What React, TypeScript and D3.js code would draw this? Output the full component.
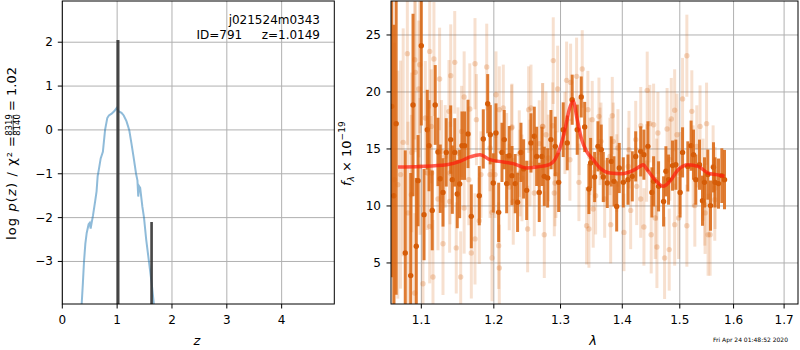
import * as d3 from 'd3'

// p(z) curve
const pzZ = [0.353, 0.375, 0.396, 0.42, 0.445, 0.48, 0.5, 0.517, 0.535, 0.56, 0.6, 0.625, 0.645, 0.66, 0.7, 0.74, 0.78, 0.82, 0.85, 0.9, 0.95, 0.99, 1.03, 1.08, 1.12, 1.17, 1.22, 1.26, 1.3, 1.345, 1.37, 1.385, 1.4, 1.42, 1.46, 1.49, 1.53, 1.58, 1.63, 1.67]
const pzLog = [-3.98, -3.5, -3.0, -2.6, -2.35, -2.15, -2.12, -2.25, -2.12, -1.95, -1.62, -1.4, -1.05, -0.95, -0.65, -0.5, 0.0, 0.27, 0.33, 0.37, 0.43, 0.5, 0.42, 0.39, 0.33, 0.2, 0.0, -0.3, -0.62, -1.0, -1.15, -1.52, -1.28, -1.32, -1.75, -2.0, -2.5, -3.0, -3.5, -3.98]

// narrow chi2 peaks
const spikeZ = [1.0149, 1.628]
const spikeTop = [2.05, -2.1]
const spikeHalf = [0.028, 0.024]

// optimal-extraction spectrum [wave, flux, err]
const darkSpec = [
  [1.0617, 18.74, 15], [1.0643, 10.9, 15], [1.0673, 17.22, 15], [1.079, 5.88, 9], [1.0861, 3.89, 9],
  [1.0891, 18.86, 8], [1.0934, 6.46, 6], [1.0957, 12.22, 4], [1.1, 24.06, 7], [1.1036, 9.24, 4],
  [1.1079, 16.69, 3.5], [1.1102, 15.29, 4], [1.1145, 9.61, 3.5], [1.1185, 18.86, 3.5], [1.1222, 14.74, 3],
  [1.1253, 12.39, 3], [1.129, 11.19, 3], [1.1334, 14.7, 3], [1.1395, 15.82, 3], [1.1417, 12.31, 3],
  [1.145, 14.7, 3], [1.1485, 11.05, 3], [1.1518, 11.93, 3], [1.155, 15.29, 3], [1.1587, 15.29, 3],
  [1.1634, 16.32, 3], [1.168, 9.09, 2.8], [1.1792, 10.9, 2.6], [1.1849, 15.88, 2.6], [1.1912, 18.97, 2.6],
  [1.1949, 16.25, 2.6], [1.1992, 12.02, 2.6], [1.2031, 16.4, 2.6], [1.207, 9.44, 2.6], [1.2118, 14.7, 2.6],
  [1.2151, 15.82, 2.6], [1.2186, 11.96, 2.6], [1.2224, 14.41, 2.6], [1.2264, 12.66, 2.6], [1.2312, 11.96, 2.6],
  [1.2347, 10.32, 2.6], [1.2397, 14.7, 2.6], [1.2437, 13.25, 2.6], [1.2482, 11.37, 2.6], [1.2547, 15.53, 2.6],
  [1.2597, 16.11, 2.6], [1.2633, 14.35, 2.6], [1.2672, 11.19, 2.6], [1.2713, 14.35, 2.6], [1.2749, 12.6, 2.6],
  [1.2801, 12.46, 2.6], [1.2851, 15.82, 2.6], [1.2918, 15.23, 2.6], [1.2971, 12.07, 2.6], [1.3042, 16.69, 2.4],
  [1.3105, 15.53, 2.4], [1.3183, 19.32, 2.2], [1.3263, 16.69, 2.2], [1.3327, 19.56, 1.8], [1.3382, 16.93, 2.2],
  [1.345, 11.49, 2.2], [1.3478, 13.77, 2.2], [1.3543, 12.54, 2.2], [1.3597, 15.23, 2.2], [1.3651, 14.94, 2.2],
  [1.3684, 12.54, 2.2], [1.375, 12.02, 2.2], [1.3816, 13.91, 2.2], [1.3861, 12.16, 2.2], [1.3906, 9.96, 2.2],
  [1.3949, 13.33, 2.2], [1.4017, 12.07, 2.2], [1.4096, 12.31, 2.2], [1.4169, 12.6, 2.2], [1.4227, 14.35, 2.2],
  [1.4313, 14.79, 2.2], [1.4368, 14.5, 2.2], [1.4437, 15.23, 2.2], [1.4506, 11.19, 2.2], [1.4536, 12.16, 2.2],
  [1.4623, 11.72, 2.2], [1.4711, 10.4, 2.2], [1.4752, 13.04, 2.2], [1.4799, 12.31, 2.2], [1.487, 13.54, 2.2],
  [1.4929, 13.62, 2.2], [1.5006, 11.19, 2.2], [1.505, 14.7, 2.2], [1.5145, 13.47, 2.2], [1.5205, 15.29, 2.2],
  [1.5249, 14.5, 2.2], [1.5291, 12.31, 2.2], [1.5359, 13.62, 2.2], [1.5414, 10.46, 2.2], [1.5451, 12.07, 2.2],
  [1.5513, 12.75, 2.2], [1.5563, 10.03, 2.2], [1.5619, 13.39, 2.2], [1.5649, 12.07, 2.2], [1.5713, 11.96, 2.2],
  [1.5776, 12.66, 2.4], [1.5827, 12.31, 2.6],
]

// individual-beam spectrum [wave, flux, err]
const lightSpec = [
  [1.0817, 23.36, 8], [1.0913, 22.83, 7], [1.0921, 21.72, 7], [1.0979, 22.39, 6], [1.0966, 20.26, 6],
  [1.1111, 23.56, 5], [1.1168, 22.89, 5], [1.1244, 21.14, 4.5], [1.1395, 21.43, 4.5], [1.145, 22.6, 4.5],
  [1.1732, 22.48, 4], [1.158, 19.56, 4], [1.1659, 18.51, 4], [1.1371, 18.3, 4.5], [1.1053, 17.72, 5],
  [1.1132, 16.98, 5], [1.0763, 15.58, 10], [1.0651, 12.31, 12], [1.0694, 11.87, 10], [1.0869, 10.99, 7],
  [1.0825, 9.39, 8], [1.1222, 10.61, 4.5], [1.129, 6.69, 4.5], [1.138, 10.4, 4.5], [1.1471, 6.32, 4],
  [1.1532, 3.77, 4], [1.1155, 3.77, 5], [1.1022, 3.18, 6], [1.0913, 2.37, 7], [1.1111, 8.21, 5],
  [1.1732, 7.11, 4], [1.168, 5.88, 4], [1.158, 9.82, 4], [1.1645, 12.31, 4], [1.1079, 12.89, 5],
  [1.132, 14.35, 4.5], [1.1495, 14.65, 4], [1.073, 12.75, 10], [1.0874, 14.7, 7], [1.0983, 13.47, 6],
  [1.1137, 12.89, 5], [1.127, 14.79, 4.5], [1.1385, 12.89, 4.5], [1.1545, 16.54, 4], [1.1752, 17.57, 4],
  [1.1898, 22.19, 3.8], [1.2031, 19.76, 3.8], [1.2079, 18.45, 3.8], [1.2137, 18.6, 3.8], [1.2264, 16.93, 3.8],
  [1.2512, 18.45, 3.8], [1.2547, 18.6, 3.8], [1.2724, 16.98, 3.8], [1.2775, 16.25, 3.8], [1.2887, 22.75, 3.8],
  [1.2955, 20.26, 3.8], [1.2878, 17.04, 3.8], [1.1816, 12.75, 3.8], [1.1945, 12.75, 3.8], [1.1974, 9.44, 3.8],
  [1.1974, 5.44, 3.8], [1.207, 6.52, 3.8], [1.2079, 4.56, 3.8], [1.1792, 8.71, 3.8], [1.2224, 11.67, 3.8],
  [1.2283, 10.4, 3.8], [1.2497, 7.98, 3.8], [1.2412, 12.46, 3.8], [1.2597, 11.14, 3.8], [1.2749, 7.48, 3.8],
  [1.2903, 11.14, 3.8], [1.2929, 12.75, 3.8], [1.2372, 14.59, 3.8], [1.2672, 15.47, 3.8], [1.1945, 15.09, 3.8],
  [1.2017, 12.75, 3.8], [1.2186, 14.35, 3.8], [1.2259, 16.84, 3.8], [1.2382, 12.89, 3.8], [1.2532, 13.77, 3.8],
  [1.2724, 16.98, 3.8], [1.281, 14.21, 3.8], [1.2913, 12.02, 3.8], [1.3069, 16.4, 3.6], [1.3147, 14.06, 3.6],
  [1.3343, 22.02, 3.4], [1.3253, 21.37, 3.4], [1.3158, 20.84, 3.4], [1.3095, 21.02, 3.4], [1.3434, 18.45, 3.4],
  [1.3504, 17.57, 3.4], [1.3613, 17.86, 3.4], [1.3833, 17.92, 3.4], [1.3927, 15.09, 3.4], [1.3849, 15.67, 3.4],
  [1.329, 12.07, 3.4], [1.3559, 10.9, 3.4], [1.352, 9.74, 3.4], [1.3413, 8.27, 3.4], [1.345, 7.98, 3.4],
  [1.3806, 8.36, 3.4], [1.3707, 10.61, 3.4], [1.4028, 7.68, 3.4], [1.4141, 9.61, 3.4], [1.4368, 8.16, 3.4],
  [1.4313, 10.61, 3.4], [1.4494, 7.48, 3.4], [1.4425, 20.14, 3.4], [1.4471, 17.22, 3.4], [1.4313, 17.04, 3.4],
  [1.4227, 15.82, 3.4], [1.4113, 14.94, 3.4], [1.3646, 15.67, 3.4], [1.3295, 16.11, 3.4], [1.3466, 14.35, 3.4],
  [1.3629, 15.23, 3.4], [1.3794, 14.35, 3.4], [1.3906, 12.89, 3.4], [1.4101, 13.47, 3.4], [1.4244, 11.72, 3.4],
  [1.4415, 13.77, 3.4], [1.5128, 23.18, 3.6], [1.505, 19.39, 3.6], [1.4908, 18.39, 3.6], [1.4848, 17.63, 3.6],
  [1.4773, 16.75, 3.6], [1.4611, 16.4, 3.6], [1.5218, 18.3, 3.6], [1.5369, 16.98, 3.6], [1.549, 17.22, 3.6],
  [1.5309, 15.23, 3.6], [1.4536, 17.13, 3.6], [1.4949, 16.25, 3.6], [1.4564, 8.95, 3.6], [1.4594, 6.4, 3.6],
  [1.4729, 5.44, 3.6], [1.4811, 6.17, 3.6], [1.4979, 8.95, 3.6], [1.4908, 8.36, 3.6], [1.5128, 8.27, 3.6],
  [1.5273, 10.03, 3.6], [1.5462, 9.39, 3.6], [1.5556, 7.48, 3.6], [1.5649, 11.58, 3.6], [1.4588, 12.31, 3.6],
  [1.4822, 14.06, 3.6], [1.5001, 12.89, 3.6], [1.5242, 13.47, 3.6], [1.5425, 12.31, 3.6], [1.5612, 13.47, 3.6],
  [1.5643, 10.55, 3.6], [1.5518, 7.48, 3.6], [1.5457, 10.12, 3.6],
]

// best-fit model
const modelWave = [1.0696, 1.0983, 1.134, 1.1522, 1.1662, 1.1802, 1.1945, 1.2137, 1.2283, 1.2482, 1.2633, 1.2826, 1.2913, 1.2991, 1.3069, 1.3136, 1.3199, 1.3263, 1.3334, 1.3413, 1.352, 1.3629, 1.3794, 1.399, 1.4186, 1.4299, 1.4357, 1.4415, 1.4559, 1.4704, 1.4822, 1.4971, 1.5151, 1.5333, 1.5518, 1.5674, 1.5827]
const modelFlux = [13.42, 13.47, 13.62, 13.91, 14.3, 14.5, 14.06, 13.86, 13.71, 13.33, 13.42, 13.62, 14.06, 15.09, 16.69, 18.45, 19.18, 17.57, 15.82, 14.79, 14.06, 13.33, 12.89, 12.83, 13.12, 13.47, 13.62, 13.25, 12.31, 11.72, 12.16, 13.18, 13.62, 13.47, 12.89, 12.75, 12.6]

const zTicks = [0, 1, 2, 3, 4]
const pTicks = [-3, -2, -1, 0, 1, 2]
const waveTicks = [1.1, 1.2, 1.3, 1.4, 1.5, 1.6, 1.7]
const fluxTicks = [5, 10, 15, 20, 25]

const FONT = 'DejaVu Sans, sans-serif'
const ORANGE = '#d9650f'
const GRID = '#b0b0b0'
const fmt = (v) => String(v).replace('-', '\u2212')

export default function App() {
  const L = { x0: 62.3, x1: 334.3, y0: 1, y1: 304 }
  const R = { x0: 391, x1: 798, y0: 1, y1: 304 }

  const xz = d3.scaleLinear().domain([0, 4.96]).range([L.x0, L.x1])
  const yp = d3.scaleLinear().domain([-3.97, 2.94]).range([L.y1, L.y0])
  const xw = d3.scaleLog().domain([1.0607, 1.7286]).range([R.x0, R.x1])
  const yf = d3.scaleLinear().domain([1.4, 27.98]).range([R.y1, R.y0])

  const pzLine = d3.line().x((d) => xz(d[0])).y((d) => yp(d[1]))
  const pzPath = pzLine(pzZ.map((z, i) => [z, pzLog[i]]))

  const modelLine = d3
    .line()
    .x((d) => xw(d[0]))
    .y((d) => yf(d[1]))
    .curve(d3.curveMonotoneX)
  const modelPath = modelLine(modelWave.map((w, i) => [w, modelFlux[i]]))

  return (
    <svg width={800} height={350} style={{ position: 'absolute', left: 0, top: 0, background: '#fff' }} fontFamily={FONT}>
      <defs>
        <clipPath id='clipL'>
          <rect x={L.x0} y={L.y0} width={L.x1 - L.x0} height={L.y1 - L.y0} />
        </clipPath>
        <clipPath id='clipR'>
          <rect x={R.x0} y={R.y0} width={R.x1 - R.x0} height={R.y1 - R.y0} />
        </clipPath>
      </defs>

      {/* left panel: p(z) */}
      <g>
        {zTicks.map((t) => (
          <line key={'gz' + t} x1={xz(t)} x2={xz(t)} y1={L.y0} y2={L.y1} stroke={GRID} strokeWidth={1} />
        ))}
        {pTicks.map((t) => (
          <line key={'gp' + t} x1={L.x0} x2={L.x1} y1={yp(t)} y2={yp(t)} stroke={GRID} strokeWidth={1} />
        ))}
        <g clipPath='url(#clipL)'>
          <path d={pzPath} fill='none' stroke='#1f77b4' strokeOpacity={0.5} strokeWidth={2} />
          {spikeZ.map((z, i) => (
            <rect
              key={'sp' + i}
              x={xz(z - spikeHalf[i])}
              width={xz(z + spikeHalf[i]) - xz(z - spikeHalf[i])}
              y={yp(spikeTop[i])}
              height={L.y1 - yp(spikeTop[i]) + 2}
              fill='#333'
              fillOpacity={0.9}
            />
          ))}
        </g>
        <rect x={L.x0} y={L.y0} width={L.x1 - L.x0} height={L.y1 - L.y0} fill='none' stroke='#000' strokeWidth={1} />
        {zTicks.map((t) => (
          <g key={'tz' + t}>
            <line x1={xz(t)} x2={xz(t)} y1={L.y1} y2={L.y1 + 4.5} stroke='#000' />
            <text x={xz(t)} y={324} fontSize={12} textAnchor='middle'>{fmt(t)}</text>
          </g>
        ))}
        {pTicks.map((t) => (
          <g key={'tp' + t}>
            <line x1={L.x0 - 4.5} x2={L.x0} y1={yp(t)} y2={yp(t)} stroke='#000' />
            <text x={53} y={yp(t)} fontSize={12} textAnchor='end' dominantBaseline='central'>{fmt(t)}</text>
          </g>
        ))}
        <text x={320} y={24} fontSize={12} textAnchor='end'>j021524m0343</text>
        <text x={196.5} y={38.5} fontSize={12}>ID=791</text>
        <text x={320} y={38.5} fontSize={12} textAnchor='end'>z=1.0149</text>
        <text x={197} y={345} fontSize={13} fontStyle='italic' textAnchor='middle'>z</text>
        <g transform='translate(16,240) rotate(-90)' fontSize={13}>
          <text x={0} y={0} textLength={88} lengthAdjust='spacing'>
            log <tspan fontStyle='italic'>p</tspan>(<tspan fontStyle='italic'>z</tspan>) / χ²
          </text>
          <text x={93} y={0}>=</text>
          <text x={115} y={-4.5} fontSize={8.5} textAnchor='middle'>8319</text>
          <line x1={105} x2={125} y1={-2.8} y2={-2.8} stroke='#000' strokeWidth={0.7} />
          <text x={115} y={4.2} fontSize={8.5} textAnchor='middle'>8140</text>
          <text x={129} y={0}>= 1.02</text>
        </g>
      </g>

      {/* right panel: spectrum */}
      <g>
        {waveTicks.map((t) => (
          <line key={'gw' + t} x1={xw(t)} x2={xw(t)} y1={R.y0} y2={R.y1} stroke={GRID} strokeWidth={1} />
        ))}
        {fluxTicks.map((t) => (
          <line key={'gf' + t} x1={R.x0} x2={R.x1} y1={yf(t)} y2={yf(t)} stroke={GRID} strokeWidth={1} />
        ))}
        <g clipPath='url(#clipR)'>
          {lightSpec.map((d, i) => (
            <g key={'l' + i}>
              <line x1={xw(d[0])} x2={xw(d[0])} y1={yf(d[1] - d[2])} y2={yf(d[1] + d[2])} stroke={ORANGE} strokeOpacity={0.2} strokeWidth={3} />
              <circle cx={xw(d[0])} cy={yf(d[1])} r={2.7} fill={ORANGE} fillOpacity={0.25} />
            </g>
          ))}
          {darkSpec.map((d, i) => (
            <g key={'d' + i}>
              <line x1={xw(d[0])} x2={xw(d[0])} y1={yf(d[1] - d[2])} y2={yf(d[1] + d[2])} stroke={ORANGE} strokeOpacity={0.85} strokeWidth={3} />
              <circle cx={xw(d[0])} cy={yf(d[1])} r={2.7} fill='#d55c08' />
            </g>
          ))}
          <path d={modelPath} fill='none' stroke='#ff1a0a' strokeOpacity={0.7} strokeWidth={3.5} />
        </g>
        <rect x={R.x0} y={R.y0} width={R.x1 - R.x0} height={R.y1 - R.y0} fill='none' stroke='#000' strokeWidth={1} />
        {waveTicks.map((t) => (
          <g key={'tw' + t}>
            <line x1={xw(t)} x2={xw(t)} y1={R.y1} y2={R.y1 + 4.5} stroke='#000' />
            <text x={xw(t)} y={324} fontSize={12} textAnchor='middle'>{t.toFixed(1)}</text>
          </g>
        ))}
        {fluxTicks.map((t) => (
          <g key={'tf' + t}>
            <line x1={R.x0 - 4.5} x2={R.x0} y1={yf(t)} y2={yf(t)} stroke='#000' />
            <text x={381} y={yf(t)} fontSize={12} textAnchor='end' dominantBaseline='central'>{t}</text>
          </g>
        ))}
        <text x={593} y={345} fontSize={13} fontStyle='italic' textAnchor='middle'>λ</text>
        <g transform='translate(351,186) rotate(-90)' fontSize={13}>
          <text x={0} y={0}>
            <tspan fontStyle='italic'>f</tspan>
            <tspan fontSize={9} fontStyle='italic' dy={3}>λ</tspan>
            <tspan dy={-3}> × 10</tspan>
            <tspan fontSize={9} dy={-6}>−19</tspan>
          </text>
        </g>
        <text x={788} y={342} fontSize={6} textAnchor='end' fill='#000'>Fri Apr 24 01:48:52 2020</text>
      </g>
    </svg>
  )
}
